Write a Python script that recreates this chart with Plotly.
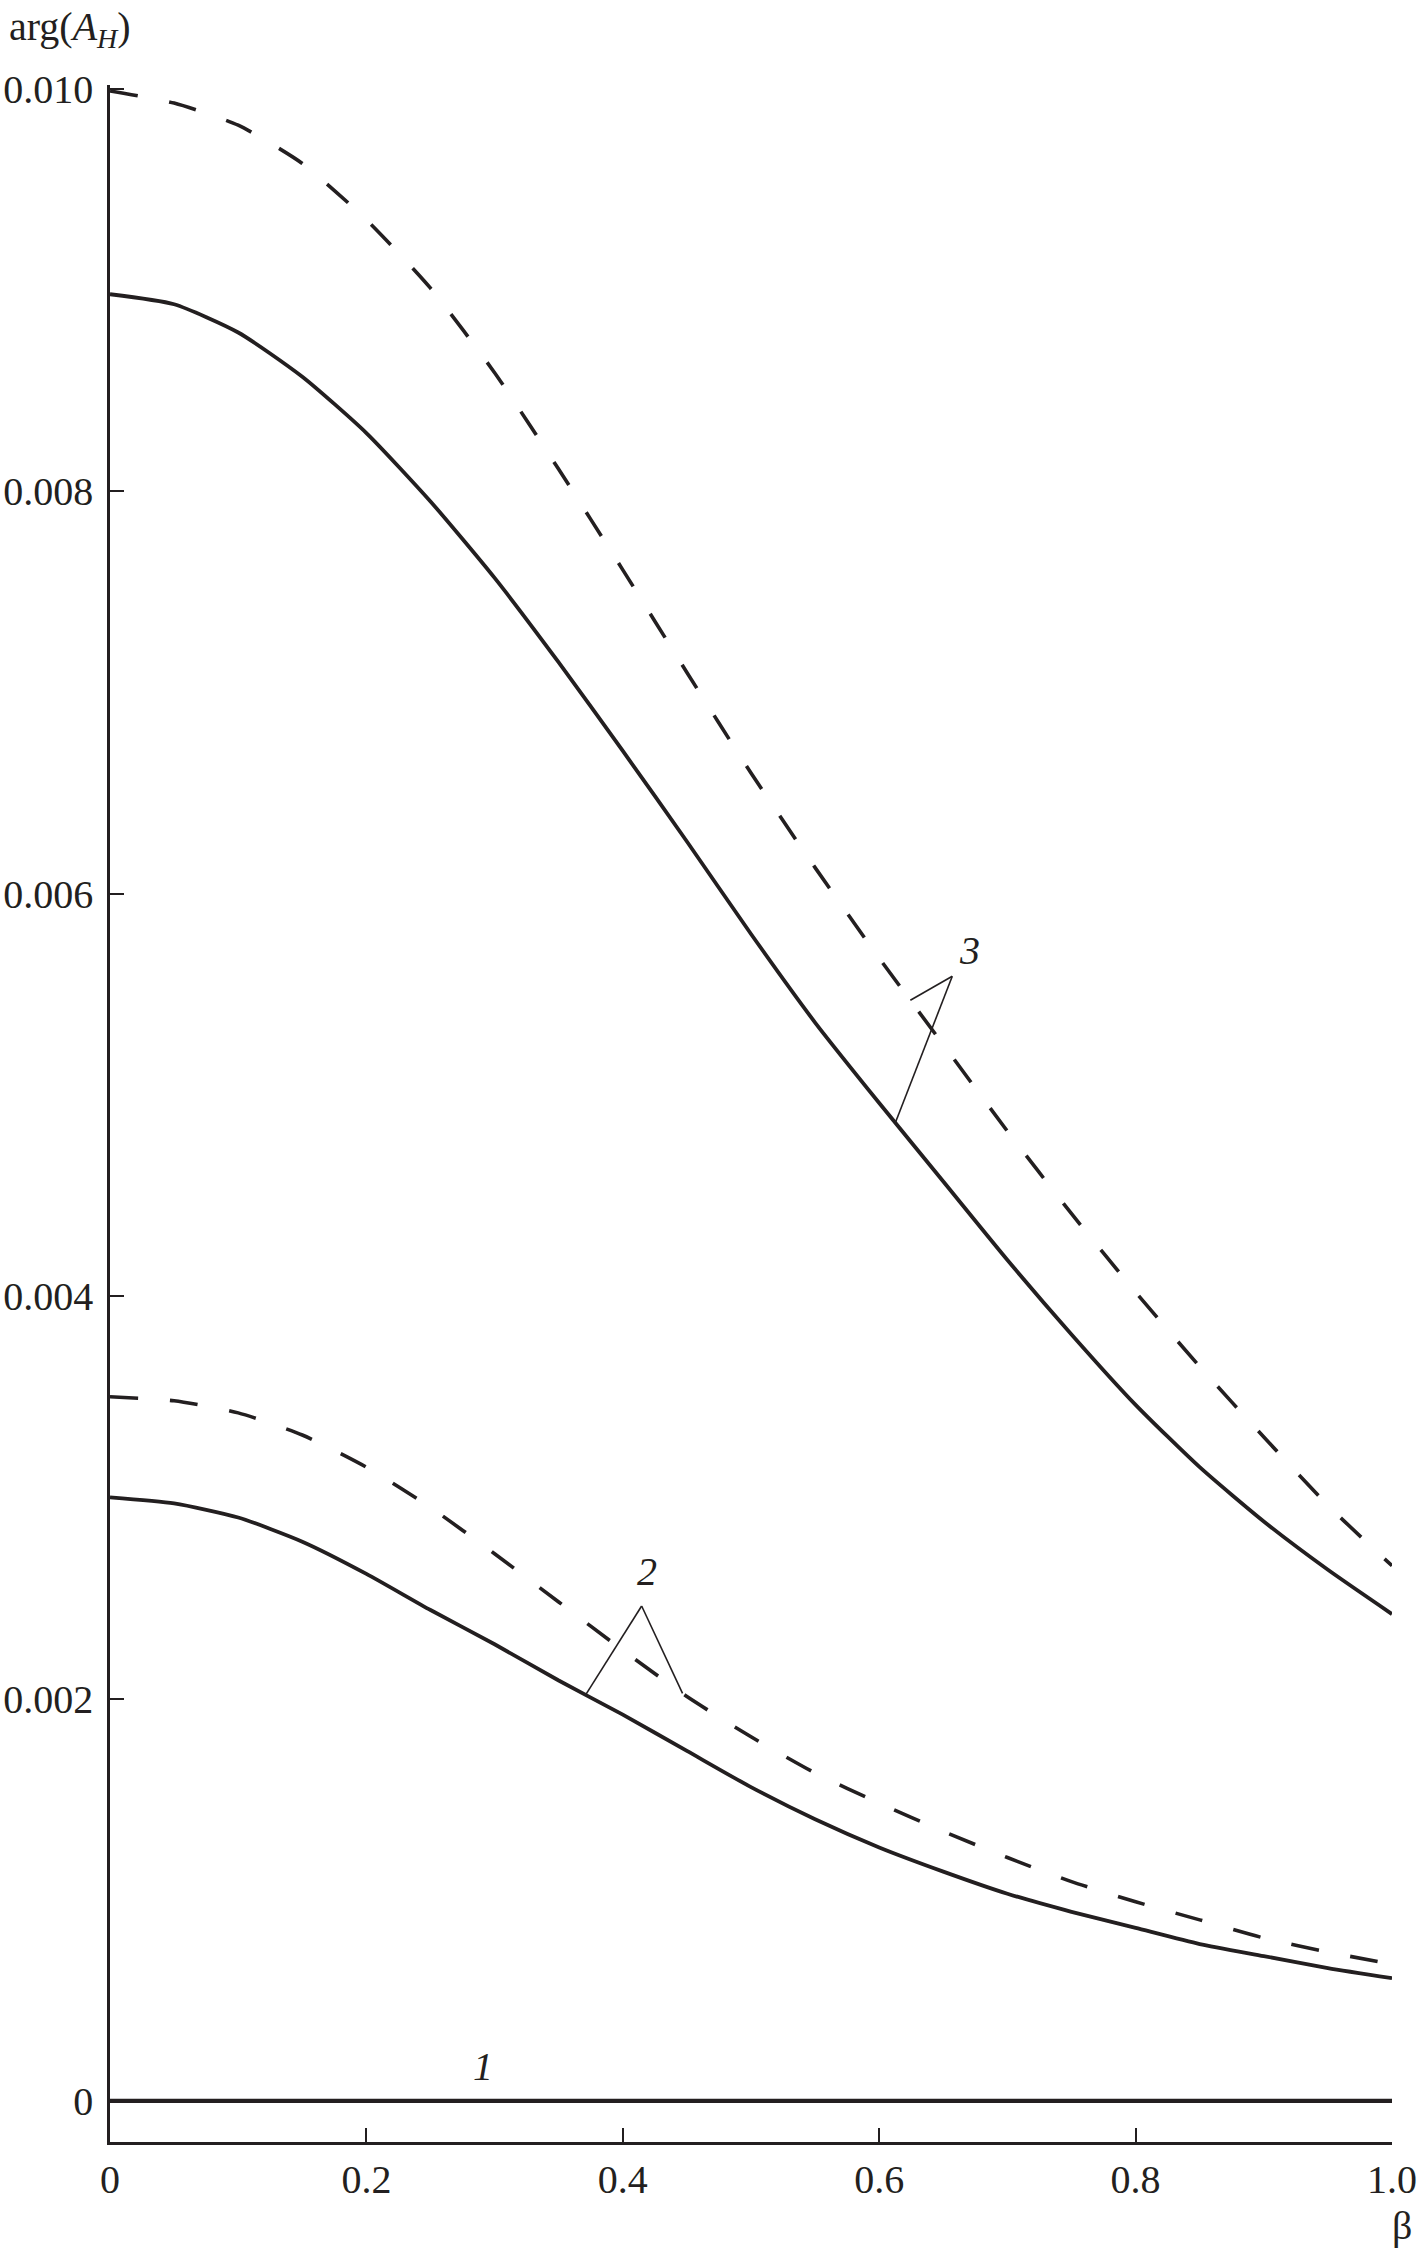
import numpy as np
import plotly.graph_objects as go

# beta grid and curves
beta = [0.0, 0.05, 0.10, 0.15, 0.20, 0.25, 0.30, 0.35, 0.40, 0.45, 0.50,
        0.55, 0.60, 0.65, 0.70, 0.75, 0.80, 0.85, 0.90, 0.95, 1.0]
curve1 = [0.0] * len(beta)
curve2_solid = [0.00300, 0.00297, 0.00290, 0.00278, 0.00262, 0.00244, 0.00227,
                0.00209, 0.00192, 0.00174, 0.00156, 0.00140, 0.00126, 0.00114,
                0.00103, 0.00094, 0.00086, 0.00078, 0.00072, 0.00066, 0.00061]
curve2_dash = [0.00350, 0.00348, 0.00342, 0.00331, 0.00315, 0.00295, 0.00272,
               0.00248, 0.00224, 0.00201, 0.00181, 0.00163, 0.00148, 0.00134,
               0.00121, 0.00109, 0.00099, 0.00090, 0.00081, 0.00074, 0.00068]
curve3_solid = [0.00898, 0.00893, 0.00879, 0.00857, 0.00829, 0.00795, 0.00757,
                0.00715, 0.00671, 0.00626, 0.00580, 0.00536, 0.00496, 0.00457,
                0.00418, 0.00381, 0.00346, 0.00315, 0.00288, 0.00264, 0.00242]
curve3_dash = [0.00999, 0.00993, 0.00982, 0.00963, 0.00935, 0.00901, 0.00859,
               0.00811, 0.00761, 0.00710, 0.00660, 0.00613, 0.00568, 0.00525,
               0.00482, 0.00441, 0.00402, 0.00365, 0.00330, 0.00296, 0.00266]

xtick_vals = [0, 0.2, 0.4, 0.6, 0.8, 1.0]
xtick_text = ['0', '0.2', '0.4', '0.6', '0.8', '1.0']
ytick_vals = [0, 0.002, 0.004, 0.006, 0.008, 0.010]
ytick_text = ['0', '0.002', '0.004', '0.006', '0.008', '0.010']

FONT = 'Liberation Serif, Times New Roman, serif'
INK = '#231f20'
solid = dict(color=INK, width=3.8, shape='spline', smoothing=0.6)
dashed = dict(color=INK, width=3.6, dash='28px,32px', shape='spline', smoothing=0.6)

fig = go.Figure()
fig.add_trace(go.Scatter(x=beta, y=curve3_dash, mode='lines', line=dashed))
fig.add_trace(go.Scatter(x=beta, y=curve3_solid, mode='lines', line=solid))
fig.add_trace(go.Scatter(x=beta, y=curve2_dash, mode='lines', line=dashed))
fig.add_trace(go.Scatter(x=beta, y=curve2_solid, mode='lines', line=solid))
fig.add_trace(go.Scatter(x=beta, y=curve1, mode='lines', line=dict(color=INK, width=4.2)))

# leader lines from the curve numbers to the curves
thin = dict(color=INK, width=1.6)
leaders = [
    ((0.4147, 0.00246), (0.371, beta, curve2_solid)),
    ((0.4147, 0.00246), (0.4466, beta, curve2_dash)),
    ((0.657, 0.00559), (0.6243, beta, curve3_dash)),
    ((0.657, 0.00559), (0.6126, beta, curve3_solid)),
]
for (ax, ay), (bx, xs, ys) in leaders:
    by = float(np.interp(bx, xs, ys))
    fig.add_shape(type='line', x0=ax, y0=ay, x1=bx, y1=by, line=thin)

for txt, x, y in [('1', 0.2907, 0.00017), ('2', 0.4186, 0.00263), ('3', 0.6703, 0.00572)]:
    fig.add_annotation(x=x, y=y, text='<i>' + txt + '</i>', showarrow=False,
                       font=dict(family=FONT, size=40, color=INK))

fig.add_annotation(xref='paper', yref='paper', x=-0.0803, y=1.0272, xanchor='left', yanchor='middle',
                   text='arg(<i>A</i><sub><i>H</i></sub>)', showarrow=False,
                   font=dict(family=FONT, size=40, color=INK))
fig.add_annotation(xref='paper', yref='paper', x=1.017, y=-0.0405, xanchor='right', yanchor='middle',
                   text='β', showarrow=False,
                   font=dict(family=FONT, size=40, color=INK))

axis_common = dict(showgrid=False, zeroline=False, showline=True, linecolor=INK,
                   linewidth=2.6, ticks='inside', ticklen=14, tickwidth=2, automargin=False,
                   tickcolor=INK, tickfont=dict(family=FONT, size=40, color=INK))
fig.update_xaxes(range=[0, 1.0], tickvals=xtick_vals, ticktext=xtick_text, **axis_common)
fig.update_yaxes(range=[-0.000204, 0.01002], tickvals=ytick_vals, ticktext=ytick_text,
                 ticklabelstandoff=6, **axis_common)

fig.update_layout(width=1418, height=2248, showlegend=False,
                  plot_bgcolor='white', paper_bgcolor='white',
                  margin=dict(l=110, r=26, t=85, b=106))

# drop the default 8px body margin so the figure fills the window exactly
fig.write_html('out.html', config={'displayModeBar': False},
               post_script="document.body.style.margin='0';")
